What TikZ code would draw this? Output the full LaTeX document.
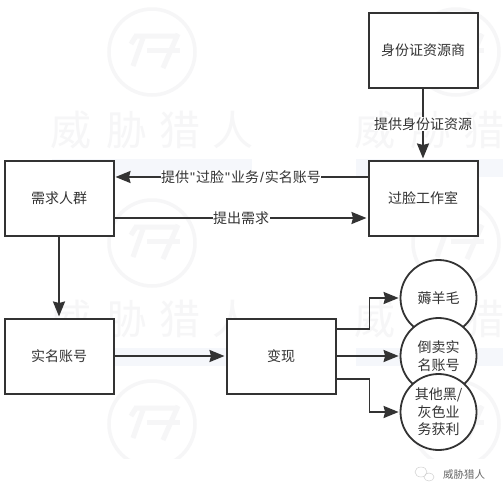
\documentclass[tikz,border=0pt]{standalone}
\usepackage{fontspec}
\setmainfont{Noto Sans CJK SC}
\newfontfamily\latinf{Liberation Sans}
\usetikzlibrary{arrows.meta}
\definecolor{ink}{HTML}{333333}
\definecolor{wmgray}{HTML}{F6F6F7}
\definecolor{wmband}{HTML}{F5F7FB}
\tikzset{
  box/.style={draw=ink,line width=2pt,fill=white,minimum width=109pt,minimum height=75pt,inner sep=0pt,font=\fontsize{14}{16}\selectfont,text=ink},
  round/.style={draw=ink,line width=1.8pt,circle,fill=white,minimum size=76pt,inner sep=0pt,align=center,font=\fontsize{14}{17.5}\selectfont,text=ink},
  link/.style={draw=ink,line width=1.9pt,-{Stealth[length=15pt,width=12pt,inset=1.5pt]},shorten >=1pt},
  edgetext/.style={fill=white,inner sep=0.5pt,text=ink,font=\fontsize{14}{16}\selectfont},
  wmline/.style={draw=wmgray,line width=3.5pt},
  wmglyph/.style={draw=wmgray,line width=5pt},
  wmchar/.style={text=wmgray,font=\fontsize{41}{44}\selectfont}
}
\newcommand{\wmlogo}[2]{%
  \begin{scope}[shift={(#1,#2)}]
    \draw[wmline] (152,52) circle (43);
    \draw[wmglyph] (134,36) -- (178,36) (136,36) -- (131,44);
    \draw[wmglyph] (143,38) -- (133,66);
    \draw[wmglyph] (147,50) -- (180,50);
    \draw[wmglyph] (178,34) -- (163,68);
  \end{scope}}
\newcommand{\wmtext}[2]{%
  \begin{scope}[shift={(#1,#2)}]
    \node[wmchar] at (71,130) {威};
    \node[wmchar] at (127,130) {胁};
    \node[wmchar] at (180,130) {猎};
    \ifnum#1=0 \node[wmchar] at (233,130) {人};\fi
    \fill[wmband] (52,159) rectangle (252,177);
  \end{scope}}
\begin{document}
\begin{tikzpicture}[x=1pt,y=-1pt]
\useasboundingbox (0,0) rectangle (503,496);
\fill[white] (0,0) rectangle (503,496);
\begin{scope}
  \clip (0,0) rectangle (503,458);
  \wmlogo{0}{0}\wmlogo{304}{0}
  \wmtext{0}{0}\wmtext{304}{0}
  \wmlogo{0}{191}\wmlogo{304}{191}
  \wmtext{0}{189}\wmtext{304}{189}
  \wmlogo{0}{372}\wmlogo{304}{372}
\end{scope}

\node[box] (src) at (423,50) {身份证资源商};
\node[box] (studio) at (423,198) {过脸工作室};
\node[box] (crowd) at (59,198) {需求人群};
\node[box] (account) at (59,356) {实名账号};
\node[box] (cash) at (281,356) {变现};

\node[round] (wool) at (438.5,298) {薅羊毛};
\node[round] (resale) at (438.5,356) {倒卖实\\名账号};
\node[round] (other) at (438.5,412) {其他黑/\\灰色业\\务获利};

\draw[link] (src) -- node[edgetext,midway] {提供身份证资源} (studio);
\draw[link] ([yshift=21pt]studio.west) -- node[edgetext,pos=0.5] {提供\kern1pt{\latinf"}\kern1pt过脸\kern1pt{\latinf"}\kern1pt业务\kern1pt{\latinf/}\kern1pt实名账号} ([yshift=21pt]crowd.east);
\draw[link] ([yshift=-20pt]crowd.east) -- node[edgetext,midway] {提出需求} ([yshift=-20pt]studio.west);
\draw[link] (crowd) -- (account);
\draw[link] (account) -- (cash);
\draw[link] ([yshift=27pt]cash.east) -- ++(33,0) |- (wool.west);
\draw[link] (cash.east) -- (resale.west);
\draw[link] ([yshift=-23pt]cash.east) -- ++(33,0) |- (other.west);

\draw[gray!35,line width=0.5pt] (421,472) ellipse (6 and 5) (429,477) ellipse (5 and 4);
\node[text=gray!80!black,inner sep=0pt,font=\fontsize{10.5}{12}\selectfont] (brand) at (464,475) {威胁猎人};
\end{tikzpicture}
\end{document}
